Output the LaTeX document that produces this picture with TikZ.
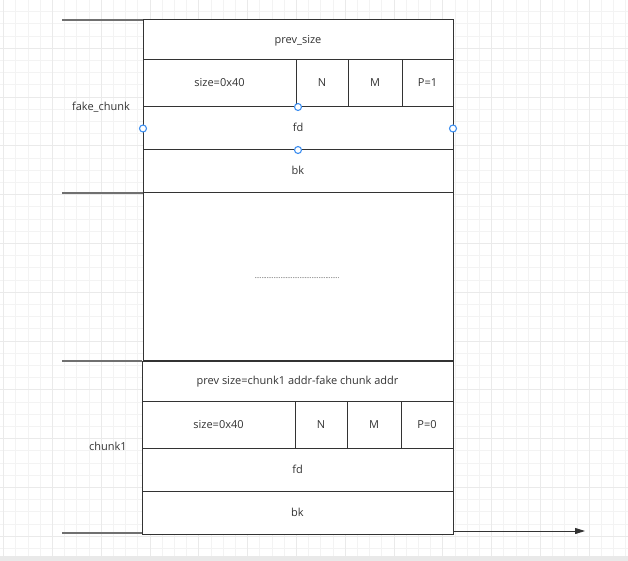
\documentclass[tikz,border=0pt]{standalone}
\usepackage{fontspec}
\setmainfont{Open Sans}
\usetikzlibrary{arrows.meta}
\definecolor{linec}{HTML}{333333}
\definecolor{leadc}{HTML}{707070}
\definecolor{textc}{HTML}{333333}
\definecolor{gridminor}{HTML}{F3F3F3}
\definecolor{gridmajor}{HTML}{EAEAEA}
\definecolor{bandc}{HTML}{E9E9E9}
\definecolor{handlec}{HTML}{3D8EF0}
\tikzset{
  cell/.style={draw=linec, fill=white, line width=1pt, inner sep=0pt, outer sep=0pt,
    anchor=north west, text=textc, font=\fontsize{11}{13}\selectfont,
    text height=8pt, text depth=1pt},
  lbl/.style={inner sep=0pt, text=textc, font=\fontsize{11}{13}\selectfont,
    text height=8pt, text depth=1pt},
  lead/.style={draw=leadc, line width=1.3pt},
  handle/.style={circle, draw=handlec, fill=white, line width=1.1pt, inner sep=0pt, minimum size=7pt},
  gminor/.style={draw=gridminor, line width=1pt},
  gmajor/.style={draw=gridmajor, line width=1pt}
}
\begin{document}
\begin{tikzpicture}[x=1pt,y=-1pt]
\useasboundingbox (0,0) rectangle (628,561);
\fill[white] (0,0) rectangle (628,561);
% grid
\foreach \i in {0,...,51} {\pgfmathsetmacro\xx{3.7+12.2*\i}\draw[gminor] (\xx,0) -- (\xx,556);}
\foreach \i in {0,...,45} {\pgfmathsetmacro\yy{-0.5+12.2*\i}\draw[gminor] (0,\yy) -- (628,\yy);}
\foreach \i in {0,...,12} {\pgfmathsetmacro\xx{3.7+48.8*\i}\draw[gmajor] (\xx,0) -- (\xx,556);}
\foreach \i in {0,...,11} {\pgfmathsetmacro\yy{-0.5+48.8*\i}\draw[gmajor] (0,\yy) -- (628,\yy);}
\fill[bandc] (0,556) rectangle (628,561);
% fake chunk
\node[cell, minimum width=310pt, minimum height=40pt] (prev1) at (143,20) {prev\_size};
\node[cell, minimum width=153pt, minimum height=47pt] (size1) at (143,60) {size=0x40};
\node[cell, minimum width=52pt, minimum height=47pt] (n1) at (296,60) {N};
\node[cell, minimum width=54pt, minimum height=47pt] (m1) at (348,60) {M};
\node[cell, minimum width=51pt, minimum height=47pt] (p1) at (402,60) {P=1};
\node[cell, minimum width=310pt, minimum height=43pt] (fd1) at (143,107) {fd};
\node[cell, minimum width=310pt, minimum height=43pt] (bk1) at (143,150) {bk};
% middle
\node[cell, minimum width=310pt, minimum height=167pt] (mid) at (143,193) {};
\node[inner sep=0pt, text=textc, font=\fontsize{6.5}{8}\selectfont] (dots) at (297,278) {.................................................};
% chunk1
\node[cell, minimum width=311pt, minimum height=40pt] (prev2) at (142,361) {prev size=chunk1 addr-fake chunk addr};
\node[cell, minimum width=153pt, minimum height=47pt] (size2) at (142,401) {size=0x40};
\node[cell, minimum width=52pt, minimum height=47pt] (n2) at (295,401) {N};
\node[cell, minimum width=54pt, minimum height=47pt] (m2) at (347,401) {M};
\node[cell, minimum width=52pt, minimum height=47pt] (p2) at (401,401) {P=0};
\node[cell, minimum width=311pt, minimum height=43pt] (fd2) at (142,448) {fd};
\node[cell, minimum width=311pt, minimum height=43pt] (bk2) at (142,491) {bk};
% lead lines
\coordinate (l1) at (62,20);
\coordinate (l2) at (62,193);
\coordinate (l3) at (62,361);
\coordinate (l4) at (62,533);
\draw[lead] (l1) -- (prev1.north west);
\draw[lead] (l2) -- (bk1.south west);
\draw[lead] (l3) -- (prev2.north west);
\draw[lead] (l4) -- ([yshift=1pt]bk2.south west);
\node[lbl] (fakelbl) at (101,107) {fake\_chunk};
\node[lbl] (c1lbl) at (108,447) {chunk1};
% arrow
\coordinate (arre) at (585,531);
\draw[draw=linec, line width=1pt, -{Triangle[length=10pt,width=6pt]}] ([yshift=3pt]bk2.south east) -- (arre);
% selection handles
\node[handle] (h1) at (fd1.north) {};
\node[handle] (h2) at (fd1.west) {};
\node[handle] (h3) at (fd1.east) {};
\node[handle] (h4) at (fd1.south) {};
\end{tikzpicture}
\end{document}
